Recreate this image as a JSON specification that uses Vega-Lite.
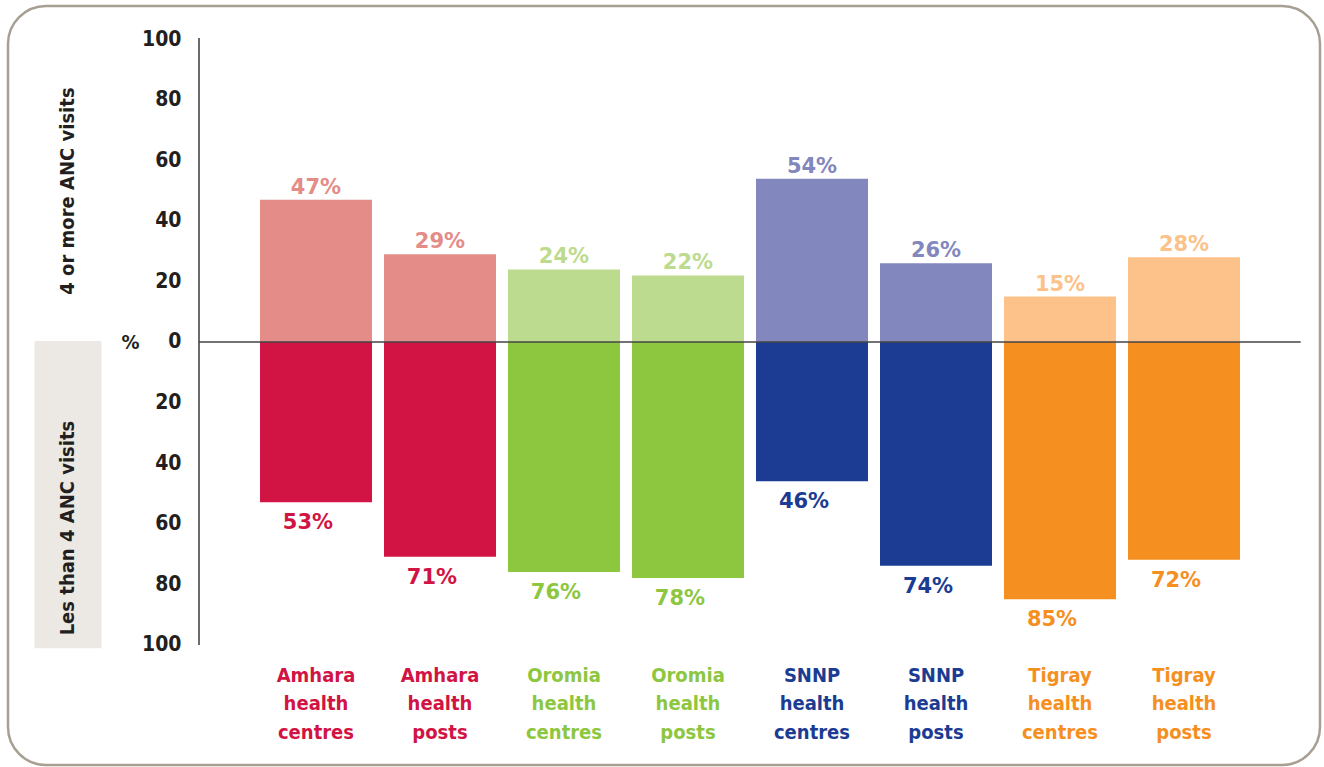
{
  "$schema": "https://vega.github.io/schema/vega-lite/v6.json",
  "width": 1324,
  "height": 767,
  "autosize": {"type": "fit", "contains": "padding"},
  "padding": {"left": 8, "top": 6, "right": 4, "bottom": 2},
  "background": "white",
  "config": {
    "view": {"stroke": "#a89f93", "strokeWidth": 2.5, "cornerRadius": 38}
  },
  "datasets": {
    "bars": [
      {"cat": "Amhara health centres", "series": "Amhara 4+", "v": 47, "pct": "47%"},
      {"cat": "Amhara health centres", "series": "Amhara <4", "v": -53, "pct": "53%"},
      {"cat": "Amhara health posts", "series": "Amhara 4+", "v": 29, "pct": "29%"},
      {"cat": "Amhara health posts", "series": "Amhara <4", "v": -71, "pct": "71%"},
      {"cat": "Oromia health centres", "series": "Oromia 4+", "v": 24, "pct": "24%"},
      {"cat": "Oromia health centres", "series": "Oromia <4", "v": -76, "pct": "76%"},
      {"cat": "Oromia health posts", "series": "Oromia 4+", "v": 22, "pct": "22%"},
      {"cat": "Oromia health posts", "series": "Oromia <4", "v": -78, "pct": "78%"},
      {"cat": "SNNP health centres", "series": "SNNP 4+", "v": 54, "pct": "54%"},
      {"cat": "SNNP health centres", "series": "SNNP <4", "v": -46, "pct": "46%"},
      {"cat": "SNNP health posts", "series": "SNNP 4+", "v": 26, "pct": "26%"},
      {"cat": "SNNP health posts", "series": "SNNP <4", "v": -74, "pct": "74%"},
      {"cat": "Tigray health centres", "series": "Tigray 4+", "v": 15, "pct": "15%"},
      {"cat": "Tigray health centres", "series": "Tigray <4", "v": -85, "pct": "85%"},
      {"cat": "Tigray health posts", "series": "Tigray 4+", "v": 28, "pct": "28%"},
      {"cat": "Tigray health posts", "series": "Tigray <4", "v": -72, "pct": "72%"}
    ],
    "one": [{}]
  },
  "layer": [
    {
      "data": {"name": "bars"},
      "mark": {"type": "bar"},
      "encoding": {
        "x": {
          "field": "cat",
          "type": "nominal",
          "sort": null,
          "scale": {
            "domain": ["_a", "_b", "Amhara health centres", "Amhara health posts", "Oromia health centres", "Oromia health posts", "SNNP health centres", "SNNP health posts", "Tigray health centres", "Tigray health posts"],
            "paddingInner": 0.0968,
            "paddingOuter": 0.3387,
            "align": 0.0476
          },
          "axis": {
            "title": null,
            "orient": "bottom",
            "offset": -110,
            "domain": false,
            "ticks": false,
            "grid": false,
            "labelAngle": 0,
            "labelPadding": 10,
            "labelOverlap": false,
            "labelBaseline": "top",
            "labelFont": "DejaVu Sans Condensed, Liberation Sans Narrow, sans-serif",
            "labelFontSize": 20,
            "labelFontWeight": "bold",
            "labelLineHeight": 28.5,
            "labelExpr": "indexof(datum.value,'_')==0 ? '' : split(datum.value,' ')",
            "labelColor": {"expr": "indexof(datum.value,'Amhara')>=0 ? '#d11443' : indexof(datum.value,'Oromia')>=0 ? '#8dc63f' : indexof(datum.value,'SNNP')>=0 ? '#1b3c92' : '#f58f1f'"}
          }
        },
        "y": {
          "field": "v",
          "type": "quantitative",
          "stack": null,
          "scale": {"domain": [-139.83, 111.07], "nice": false},
          "axis": {
            "title": "%",
            "titleAngle": 0,
            "titleX": -69,
            "titleY": 336,
            "titleAlign": "center",
            "titleBaseline": "middle",
            "titleFont": "DejaVu Sans Condensed, Liberation Sans Narrow, sans-serif",
            "titleFontSize": 20,
            "titleFontWeight": "bold",
            "titleColor": "#231f20",
            "offset": -191,
            "values": [-100, -80, -60, -40, -20, 0, 20, 40, 60, 80, 100],
            "labelExpr": "abs(datum.value)",
            "labelFont": "DejaVu Sans Condensed, Liberation Sans Narrow, sans-serif",
            "labelFontSize": 21,
            "labelFontWeight": "bold",
            "labelColor": "#231f20",
            "labelPadding": 18,
            "labelOverlap": false,
            "domain": false,
            "ticks": false,
            "grid": false
          }
        },
        "y2": {"datum": 0},
        "color": {
          "field": "series",
          "type": "nominal",
          "scale": {
            "domain": ["Amhara 4+", "Amhara <4", "Oromia 4+", "Oromia <4", "SNNP 4+", "SNNP <4", "Tigray 4+", "Tigray <4"],
            "range": ["#e48c88", "#d11443", "#bddb8e", "#8dc63f", "#8287bd", "#1b3c92", "#fcc28a", "#f58f1f"]
          },
          "legend": null
        }
      }
    },
    {
      "data": {"name": "one"},
      "mark": {"type": "bar", "width": 67, "color": "#ece9e4"},
      "encoding": {
        "x": {"datum": "_a", "type": "nominal"},
        "y": {"datum": 0.3, "type": "quantitative"},
        "y2": {"datum": -101.2}
      }
    },
    {
      "data": {"name": "one"},
      "mark": {"type": "text", "angle": 270, "align": "center", "baseline": "middle", "font": "DejaVu Sans Condensed, Liberation Sans Narrow, sans-serif", "fontSize": 20, "fontWeight": "bold", "color": "#231f20"},
      "encoding": {
        "x": {"datum": "_a", "type": "nominal"},
        "y": {"datum": 49.9, "type": "quantitative"},
        "text": {"value": "4 or more ANC visits"}
      }
    },
    {
      "data": {"name": "one"},
      "mark": {"type": "text", "angle": 270, "align": "center", "baseline": "middle", "font": "DejaVu Sans Condensed, Liberation Sans Narrow, sans-serif", "fontSize": 20, "fontWeight": "bold", "color": "#231f20"},
      "encoding": {
        "x": {"datum": "_a", "type": "nominal"},
        "y": {"datum": -61.5, "type": "quantitative"},
        "text": {"value": "Les than 4 ANC visits"}
      }
    },
    {
      "data": {"name": "bars"},
      "transform": [{"filter": "datum.v > 0"}],
      "mark": {"type": "text", "align": "center", "baseline": "alphabetic", "dy": -6, "font": "DejaVu Sans, sans-serif", "fontSize": 21, "fontWeight": "bold"},
      "encoding": {
        "x": {"field": "cat", "type": "nominal"},
        "y": {"field": "v", "type": "quantitative"},
        "text": {"field": "pct"},
        "color": {"field": "series", "type": "nominal"}
      }
    },
    {
      "data": {"name": "bars"},
      "transform": [{"filter": "datum.v < 0"}],
      "mark": {"type": "text", "align": "center", "baseline": "alphabetic", "dy": 27, "dx": -8, "font": "DejaVu Sans, sans-serif", "fontSize": 21, "fontWeight": "bold"},
      "encoding": {
        "x": {"field": "cat", "type": "nominal"},
        "y": {"field": "v", "type": "quantitative"},
        "text": {"field": "pct"},
        "color": {"field": "series", "type": "nominal"}
      }
    },
    {
      "data": {"name": "one"},
      "mark": {"type": "rule", "color": "#3a3a3a", "strokeWidth": 1.5},
      "encoding": {
        "x": {"datum": "_b", "type": "nominal", "bandPosition": 0.5625},
        "y": {"datum": 100.5, "type": "quantitative"},
        "y2": {"datum": -100.2}
      }
    },
    {
      "data": {"name": "one"},
      "mark": {"type": "rule", "color": "#444444", "strokeWidth": 1.5},
      "encoding": {
        "x": {"datum": "_b", "type": "nominal", "bandPosition": 0.5625},
        "x2": {"datum": "Tigray health posts", "bandPosition": 1.542},
        "y": {"datum": 0, "type": "quantitative"}
      }
    }
  ]
}
